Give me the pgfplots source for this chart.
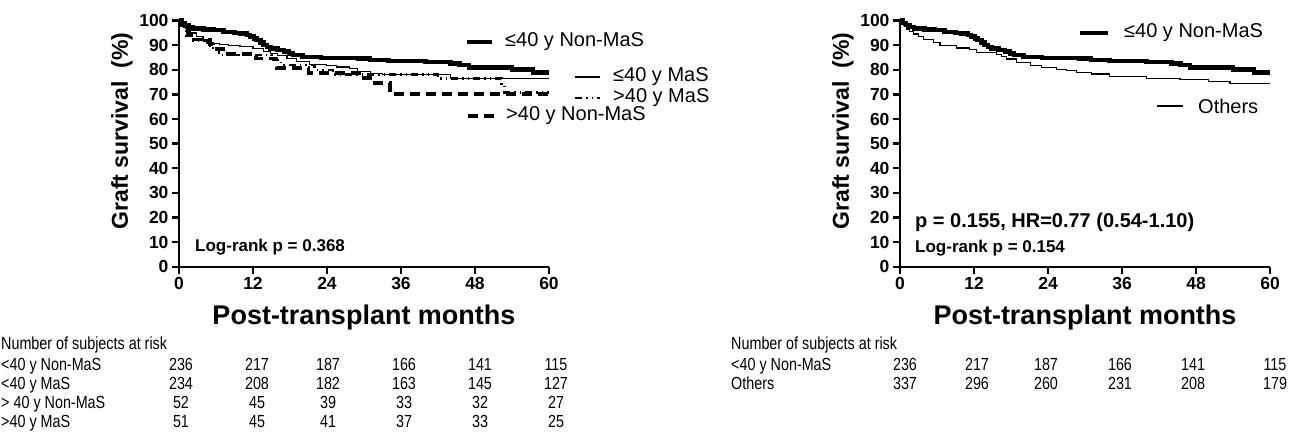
\documentclass[border=0pt]{standalone}
\usepackage{fontspec}
\setmainfont{Liberation Sans}
\newfontfamily\narrowfont[FakeStretch=0.82]{Liberation Sans}
\usepackage{pgfplots}
\pgfplotsset{compat=1.18}
\pgfplotsset{kmaxis/.style={
  scale only axis, width=370pt, height=246pt,
  xmin=0,xmax=60,ymin=0,ymax=100,
  axis lines=left, axis line style={-, line width=2.4pt},
  xtick={0,12,...,60}, ytick={0,10,...,100},
  tick align=outside, major tick length=7pt,
  tick style={line width=2.4pt, black},
  /pgf/number format/assume math mode=true,
  ticklabel style={font=\fontsize{17.5}{17.5}\selectfont\bfseries},
  clip=false, anchor=south west,
}}
\tikzset{
  thickline/.style={const plot, line width=4.5pt, black},
  thinline/.style={const plot, line width=1.2pt, black},
  dashline/.style={const plot, line width=3.6pt, black, dash pattern=on 10pt off 6pt},
  dotline/.style={const plot, line width=2.5pt, black, dash pattern=on 7pt off 4pt on 1.5pt off 4pt on 1.5pt off 4pt},
}
\begin{document}
\begin{tikzpicture}[x=1pt,y=1pt]
\path[use as bounding box] (0,0) rectangle (1304,437);
% ---------------- left panel
\begin{axis}[kmaxis, at={(179pt,170.3pt)}]
\addplot[dashline] coordinates {(0,100) (0.5,98.1) (1,96.2) (1.5,94.2) (1.8,92.3) (5,90.4) (5.5,88.5) (7.5,86.5) (12.5,84.6) (15.8,80.8) (21,78.8) (29.9,76.8) (31,74.7) (34.2,70.3) (60,70.3)};
\addplot[dotline] coordinates {(0,100) (0.4,98) (0.8,96) (1.2,94) (2,92) (4.5,90) (5.5,88) (6.5,86) (15,84) (16.5,82) (22,80) (25,78.2) (42,76.6) (52.3,73.9) (52.8,70.8) (60,70.8)};
\addplot[thinline] coordinates {(0,100) (0.5,98.5) (1,97) (1.8,95) (2.8,93.5) (3.9,92.1) (5,91.2) (5.6,90.8) (6.6,90.3) (8,89.8) (9.9,89.4) (12,88.7) (13.7,87.4) (14.8,86.7) (16,85.8) (17.5,84.7) (19.1,83.3) (21.2,82.2) (23.9,81.9) (25.5,81.2) (27.7,80.6) (29,79.5) (31,78.5) (33,78) (44,76.6) (60,76.6)};
\addplot[thickline] coordinates {(0,100) (0.5,99) (1,98.2) (1.5,97.5) (2.3,96.9) (4,96.5) (5.6,96.2) (7.2,95.5) (9,95.1) (10,94.8) (11,94.2) (11.5,93.5) (12.2,92.8) (12.6,92.1) (13.2,91.1) (13.7,90.1) (14.3,89.4) (14.8,88.7) (16,88) (17,87.4) (17.8,86.7) (18.5,86) (20,85.3) (23,84.9) (29,84.7) (31,84) (34,83.6) (40,83.3) (44,82.5) (45.5,82) (47,80.9) (54,80.2) (57.4,79) (60,79)};
\end{axis}
% ---------------- right panel
\begin{axis}[kmaxis, at={(900pt,170.3pt)}]
\addplot[thinline] coordinates {(0,100) (0.3,99) (0.6,98) (1,96.6) (1.6,95.5) (2.2,94.6) (3,93.5) (3.8,92.5) (5.4,91.2) (6.5,89.8) (9.2,88.9) (11.3,88.4) (12.4,87.1) (15.7,86.4) (16.5,85.5) (17.3,84.4) (18.9,83) (21.1,81.7) (23,81) (25.4,80.3) (27,79.6) (28.6,79) (31,78.3) (34,77.2) (40,76.6) (45.4,76.1) (50,75.4) (53.5,74.6) (60,74.6)};
\addplot[thickline] coordinates {(0,100) (0.5,99) (1,98.2) (1.5,97.5) (2.3,96.9) (4,96.5) (5.6,96.2) (7.2,95.5) (9,95.1) (10,94.8) (11,94.2) (11.5,93.5) (12.2,92.8) (12.6,92.1) (13.2,91.1) (13.7,90.1) (14.3,89.4) (14.8,88.7) (16,88) (17,87.4) (17.8,86.7) (18.5,86) (20,85.3) (23,84.9) (29,84.7) (31,84) (34,83.6) (40,83.3) (44,82.5) (45.5,82) (47,80.9) (54,80.2) (57.4,79) (60,79)};
\end{axis}
% axis labels
\node[rotate=90, font=\fontsize{23}{23}\selectfont\bfseries] at (122,306) {Graft survival\ \ (\%)};
\node[rotate=90, font=\fontsize{23}{23}\selectfont\bfseries] at (843,306) {Graft survival\ \ (\%)};
\node[font=\fontsize{27}{27}\selectfont\bfseries] at (364,119) {Post-transplant months};
\node[font=\fontsize{27}{27}\selectfont\bfseries] at (1085,119) {Post-transplant months};
% left legend
\begin{scope}[every node/.style={anchor=west, inner sep=0pt, font=\fontsize{20}{20}\selectfont}]
\draw[line width=4.5pt] (467,395) -- (492,395); \node at (505,395) {≤40 y Non-MaS};
\draw[line width=1.2pt] (575,360) -- (600,360); \node at (613,360) {≤40 y MaS};
\draw[line width=2.5pt, dash pattern=on 7pt off 4pt on 1.5pt off 4pt on 1.5pt off 4pt] (575,339) -- (600,339); \node at (613,339) {>40 y MaS};
\draw[line width=3.6pt, dash pattern=on 10pt off 6pt] (468,321) -- (497,321); \node at (506,321) {>40 y Non-MaS};
% right legend
\draw[line width=4.5pt] (1080,404) -- (1108,404); \node at (1124,404) {≤40 y Non-MaS};
\draw[line width=1.2pt] (1157,331) -- (1183,331); \node at (1198,331) {Others};
\end{scope}
% statistics
\node[anchor=west, inner sep=0pt, font=\fontsize{17}{17}\selectfont\bfseries] at (195,190) {Log-rank p = 0.368};
\node[anchor=west, inner sep=0pt, font=\fontsize{20}{20}\selectfont\bfseries] at (915,215) {p = 0.155, HR=0.77 (0.54-1.10)};
\node[anchor=west, inner sep=0pt, font=\fontsize{17}{17}\selectfont\bfseries] at (915,189) {Log-rank p = 0.154};
% risk tables
\begin{scope}[every node/.style={inner sep=0pt, font=\narrowfont\fontsize{17.5}{17.5}\selectfont}]
\node[anchor=base west] at (1,88) {Number of subjects at risk};
\node[anchor=base west] at (1,67) {<40 y Non-MaS};
\node[anchor=base west] at (1,48) {<40 y MaS};
\node[anchor=base west] at (1,29) {> 40 y Non-MaS};
\node[anchor=base west] at (1,10) {>40 y MaS};
\foreach \x/\a/\b/\c/\d in {181/236/234/52/51, 257/217/208/45/45, 328/187/182/39/41, 404/166/163/33/37, 480/141/145/32/33, 556/115/127/27/25}{
  \node[anchor=base] at (\x,67) {\a};
  \node[anchor=base] at (\x,48) {\b};
  \node[anchor=base] at (\x,29) {\c};
  \node[anchor=base] at (\x,10) {\d};
}
\node[anchor=base west] at (731,88) {Number of subjects at risk};
\node[anchor=base west] at (731,67) {<40 y Non-MaS};
\node[anchor=base west] at (731,48) {Others};
\foreach \x/\a/\b in {905/236/337, 977/217/296, 1046/187/260, 1120/166/231, 1193/141/208, 1275/115/179}{
  \node[anchor=base] at (\x,67) {\a};
  \node[anchor=base] at (\x,48) {\b};
}
\end{scope}
\end{tikzpicture}
\end{document}
